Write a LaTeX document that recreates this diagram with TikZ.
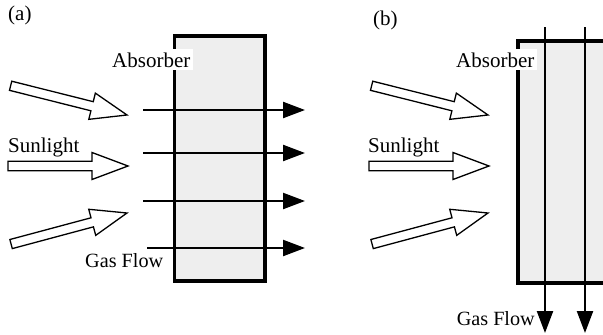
\documentclass[tikz,border=0pt]{standalone}
\usepackage{fontspec}
\setmainfont{Liberation Serif}
\usetikzlibrary{arrows.meta}
\definecolor{absfill}{HTML}{EEEEEE}
\begin{document}
\begin{tikzpicture}[x=1pt,y=-1pt,
  lbl/.style={font=\fontsize{21}{24}\selectfont, inner sep=0pt},
  gaslbl/.style={font=\fontsize{20.2}{24}\selectfont, inner sep=0pt},
  abslbl/.style={lbl, fill=white, inner sep=3pt},
  absorberbox/.style={draw, line width=3.5pt, fill=absfill, inner sep=0pt},
  gas/.style={line width=2.3pt, -{Triangle[length=22pt,width=16pt]}},
  sunarrow/.pic={\draw[line width=1.3pt, fill=white]
     (-120,-4.7) -- (-36,-4.7) -- (-36,-13.5) -- (0,0) -- (-36,13.5) -- (-36,4.7) -- (-120,4.7) -- cycle;}
]
\clip (0,0) rectangle (603,335);
\fill[white] (0,0) rectangle (603,335);

% ---------- panel (a)
\node[lbl, anchor=base west] (laba) at (8,20) {(a)};
\node[absorberbox, minimum width=90.3pt, minimum height=245pt] (boxa) at (219.85,158.5) {};
\node[abslbl, anchor=base west] (absa) at (109,67) {Absorber};
\pic[rotate=-14.1] (suna1) at (127,115) {sunarrow};
\pic (suna2) at (128,166) {sunarrow};
\pic[rotate=15] (suna3) at (127,213) {sunarrow};
\node[lbl, anchor=base west] (sunlbla) at (8,152) {Sunlight};
\node[gaslbl, anchor=base west] (gaslbla) at (85,267) {Gas Flow};
\coordinate (ga1s) at (143,110); \coordinate (ga1e) at (305,110);
\coordinate (ga2s) at (143,153); \coordinate (ga2e) at (305,153);
\coordinate (ga3s) at (143,201); \coordinate (ga3e) at (305,201);
\coordinate (ga4s) at (147,248); \coordinate (ga4e) at (305,248);
\draw[gas] (ga1s) -- (ga1e);
\draw[gas] (ga2s) -- (ga2e);
\draw[gas] (ga3s) -- (ga3e);
\draw[gas] (ga4s) -- (ga4e);

% ---------- panel (b)
\node[lbl, anchor=base west] (labb) at (373,25) {(b)};
\node[absorberbox, minimum width=162pt, minimum height=242pt] (boxb) at (599,162) {};
\node[abslbl, anchor=base west] (absb) at (453,67) {Absorber};
\pic[rotate=-14.1] (sunb1) at (488,115) {sunarrow};
\pic (sunb2) at (489,166) {sunarrow};
\pic[rotate=15] (sunb3) at (488,213) {sunarrow};
\node[lbl, anchor=base west] (sunlblb) at (368,152) {Sunlight};
\node[gaslbl, anchor=base east] (gaslblb) at (535,325) {Gas Flow};
\coordinate (gb1s) at (545,27); \coordinate (gb1e) at (545,333);
\coordinate (gb2s) at (585,27); \coordinate (gb2e) at (585,333);
\draw[gas] (gb1s) -- (gb1e);
\draw[gas] (gb2s) -- (gb2e);
\end{tikzpicture}
\end{document}
